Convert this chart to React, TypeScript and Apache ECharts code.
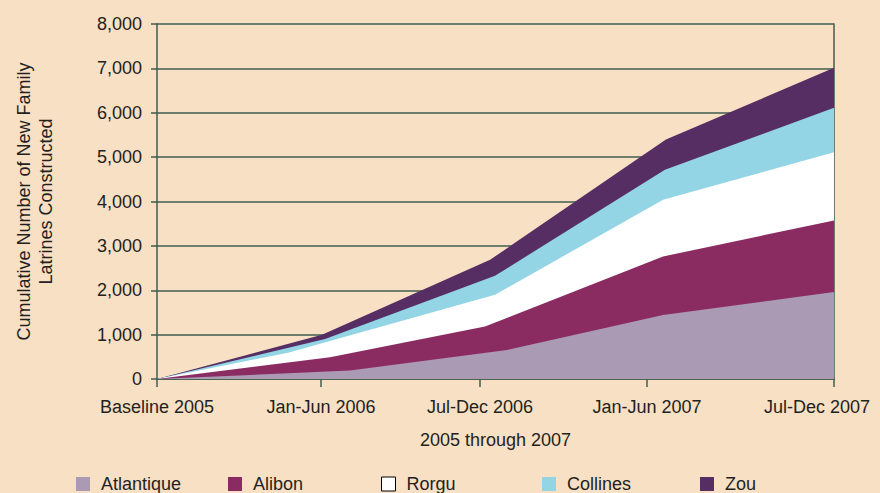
import React, { useEffect, useRef } from "react";
import * as echarts from "echarts";

// x positions are expressed in half-year periods from Baseline 2005 (0) to Jul-Dec 2007 (4)
const tickValues = [0, 0.969, 1.908, 2.895, 4];
const tickLabels = ["Baseline 2005", "Jan-Jun 2006", "Jul-Dec 2006", "Jan-Jun 2007", "Jul-Dec 2007"];

const seriesNames = ["Atlantique", "Alibon", "Rorgu", "Collines", "Zou"];
const seriesColors = ["#aa9ab4", "#8a2c62", "#ffffff", "#93d4e5", "#562e64"];

// cumulative (stacked) upper boundary of each region: [period, latrines]
const atlantiqueTop = [[0, 0], [1.14, 190], [2.068, 655], [2.99, 1445], [4, 1960]];
const alibonTop = [[0, 0], [1.022, 490], [1.938, 1181], [2.99, 2761], [4, 3573]];
const rorguTop = [[0, 0], [0.774, 594], [1.997, 1896], [2.99, 4041], [4, 5108]];
const collinesTop = [[0, 0], [0.993, 900], [1.997, 2325], [3.001, 4718], [4, 6110]];
const zouTop = [[0, 0], [0.975, 1000], [1.968, 2686], [3.007, 5395], [4, 7013]];

const yMin = 0;
const yMax = 8000;
const yInterval = 1000;

const FONT = "'Liberation Sans', Arial, Helvetica, sans-serif";
const TEXT = "#231f20";
const AXIS = "#3f5e4c";
const BG = "#f7e0c4";

export default function App() {
  const ref = useRef<HTMLDivElement>(null);

  useEffect(() => {
    if (!ref.current) return;
    const chart = echarts.init(ref.current, undefined, { renderer: "svg" });

    const tops = [atlantiqueTop, alibonTop, rorguTop, collinesTop, zouTop];
    // draw top-most cumulative boundary first so lower regions paint over it
    const order = [4, 3, 2, 1, 0];
    const series = order.map((i, k) => ({
      name: seriesNames[i],
      type: "line",
      data: tops[i],
      symbol: "none",
      z: 2 + k,
      lineStyle: { width: 0, color: seriesColors[i] },
      itemStyle: { color: seriesColors[i] },
      areaStyle: { color: seriesColors[i], opacity: 1 },
    }));

    const legendLefts = [76, 228, 381, 542, 700];
    const legends = seriesNames.map((n, i) => ({
      data: [n],
      left: legendLefts[i],
      top: 475,
      padding: 0,
      icon: "rect",
      itemWidth: 14,
      itemHeight: 14,
      itemStyle:
        i === 2 ? { color: "#ffffff", borderColor: "#000000", borderWidth: 1 } : { color: seriesColors[i] },
      textStyle: { fontFamily: FONT, fontSize: 18, color: TEXT, padding: [0, 0, 0, 6] },
      selectedMode: false,
    }));

    const labelFor = (v: number) => {
      let best = 0;
      for (let i = 0; i < tickValues.length; i++) {
        if (Math.abs(tickValues[i] - v) < Math.abs(tickValues[best] - v)) best = i;
      }
      return best;
    };

    chart.setOption({
      animation: false,
      backgroundColor: BG,
      textStyle: { fontFamily: FONT },
      grid: { left: 157, right: 46, top: 24, bottom: 114, containLabel: false },
      legend: legends,
      xAxis: {
        type: "value",
        min: 0,
        max: 4,
        name: "2005 through 2007",
        nameLocation: "middle",
        nameGap: 52,
        nameTextStyle: { fontFamily: FONT, fontSize: 18, color: TEXT },
        axisLine: { show: true, lineStyle: { color: AXIS, width: 1.5 } },
        axisTick: { show: true, customValues: tickValues, length: 8, lineStyle: { color: AXIS, width: 1.5 } },
        splitLine: { show: false },
        axisLabel: {
          customValues: tickValues,
          margin: 19,
          fontFamily: FONT,
          fontSize: 18,
          color: TEXT,
          formatter: (v: number) => {
            const i = labelFor(v);
            return i === tickValues.length - 1 ? `{last|${tickLabels[i]}}` : tickLabels[i];
          },
          rich: {
            last: { padding: [0, 34, 0, 0], fontFamily: FONT, fontSize: 18, color: TEXT },
          },
        },
      },
      yAxis: [
        {
          type: "value",
          min: yMin,
          max: yMax,
          interval: yInterval,
          name: "Cumulative Number of New Family\nLatrines Constructed",
          nameLocation: "middle",
          nameGap: 100,
          nameTextStyle: { fontFamily: FONT, fontSize: 18, color: TEXT, lineHeight: 22 },
          axisLine: { show: true, lineStyle: { color: AXIS, width: 1.5 } },
          axisTick: { show: true, length: 6, lineStyle: { color: AXIS, width: 1.5 } },
          splitLine: { show: true, lineStyle: { color: AXIS, width: 1.5 } },
          axisLabel: {
            margin: 15,
            fontFamily: FONT,
            fontSize: 18,
            color: TEXT,
            formatter: (v: number) => v.toLocaleString("en-US"),
          },
        },
        {
          type: "value",
          min: yMin,
          max: yMax,
          interval: yInterval,
          position: "right",
          axisLine: { show: true, lineStyle: { color: AXIS, width: 1.5 } },
          axisTick: { show: false },
          axisLabel: { show: false },
          splitLine: { show: false },
        },
      ],
      series,
    });

    return () => chart.dispose();
  }, []);

  return (
    <div
      ref={ref}
      style={{ position: "absolute", left: 0, top: 0, width: 880, height: 493 }}
    />
  );
}
